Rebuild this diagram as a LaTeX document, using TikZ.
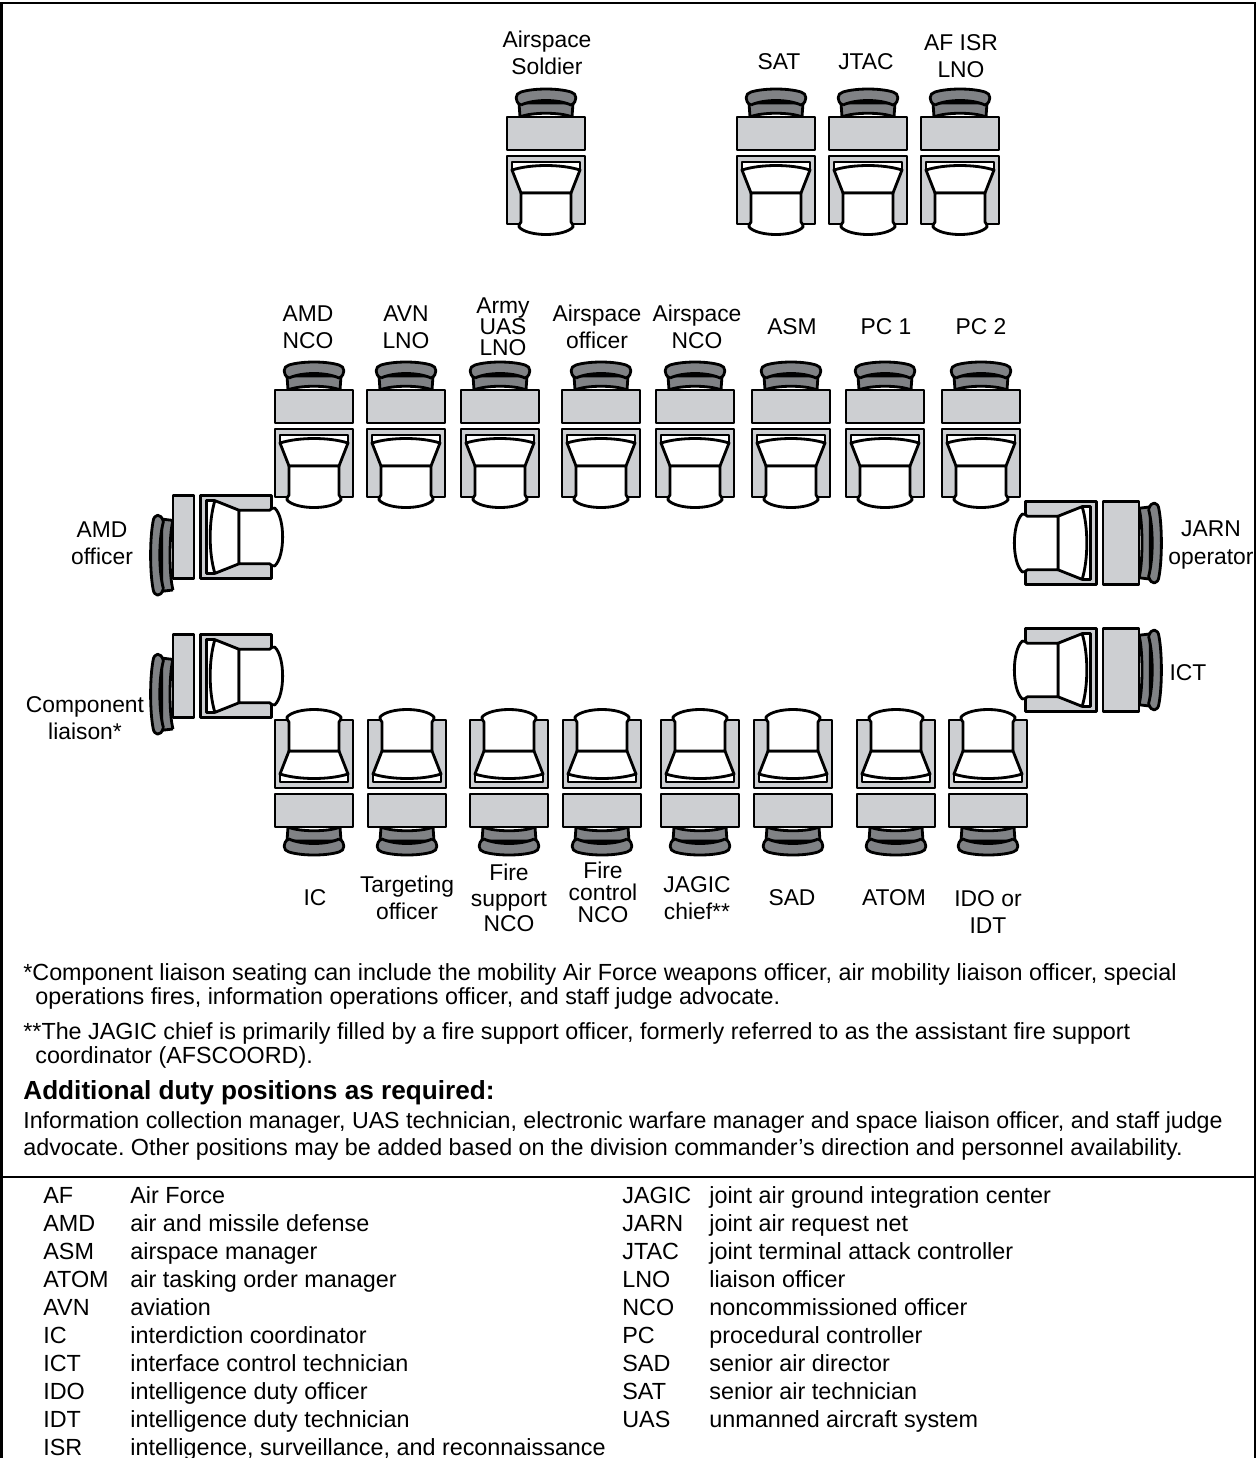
\documentclass[tikz,border=0pt]{standalone}
\usepackage{fontspec}
\setmainfont{Liberation Sans}
\usepackage{tikz}
\definecolor{deskgray}{HTML}{CDCFD2}
\definecolor{headgray}{HTML}{808285}
\frenchspacing
\tikzset{
  seatline/.style = {line width = 1.6pt, line join = round},
  place/.style = {align = center, inner sep = 0pt, font = \fontsize{13}{15.4}\selectfont},
  note/.style = {anchor = base west, inner sep = 0pt, font = \fontsize{13.28}{15}\selectfont},
  head/.style = {anchor = base west, inner sep = 0pt, font = \fontsize{14.9}{16}\selectfont\bfseries},
  abbr/.style = {anchor = base west, inner sep = 0pt, font = \fontsize{13.3}{15}\selectfont}
}
% chair seen from above, back towards the desk
\newcommand{\chair}{
\draw[seatline, fill = deskgray] (-25,72) -- (-39,72) -- (-39,4) -- (39,4) -- (39,72) -- (25,72);
\draw[seatline, fill = white] (-34,10) rectangle (34,18);
\draw[seatline, fill = white] (-34,18) .. controls (-15,12) and (15,12) .. (34,18) -- (25,41) -- (-25,41) -- cycle;
\draw[seatline, fill = white] (-25,41) -- (-25,70) .. controls (-26,72) and (-28,73) .. (-27,75) .. controls (-18,85) and (18,85) .. (27,75) .. controls (28,73) and (26,72) .. (25,70) -- (25,41) -- cycle;
}
% #1 is the depth of the desk
\newcommand{\desk}[1]{
\draw[seatline, fill = deskgray] (-39,-2) rectangle (39,-2-#1);
}
\newcommand{\headrest}{
\draw[seatline, fill = headgray] (-26,0) -- (-27,-14) -- (27,-14) -- (26,0) .. controls (15,-5) and (-15,-5) .. (-26,0);
\draw[seatline, fill = headgray] (-25,-12) .. controls (-32,-15) and (-31,-24) .. (-25,-25) .. controls (-12,-29) and (12,-29) .. (25,-25) .. controls (31,-24) and (32,-15) .. (25,-12) .. controls (12,-18) and (-12,-18) .. (-25,-12);
}
\newcommand{\seat}[3]{
\begin{scope}[shift = {(#1,#2)}, rotate = #3]
\begin{scope}[shift = {(0,-35)}]
\headrest
\end{scope}
\chair
\desk{33}
\end{scope}
}
% seats at the ends of the rows: #4 desk depth, #5 sideways shift of the headrest
\newcommand{\sideseat}[5]{
\begin{scope}[shift = {(#1,#2)}, rotate = #3, xscale = 1.07]
\begin{scope}[shift = {(#5,-2-#4)}, xscale = 1.25, yscale = 0.8]
\headrest
\end{scope}
\begin{scope}[yscale = 1.05]
\chair
\end{scope}
\desk{#4}
\end{scope}
}
\begin{document}
\begin{tikzpicture}[x = 0.02cm, y = -0.02cm]
\fill[white] (0,0) rectangle (1257,1458);
\useasboundingbox (0,0) rectangle (1257,1458);
\draw[line width = 1.3pt] (1.5,1458) coordinate (BL) -- (1.5,3) -- (1255,3) -- (1255,1458) coordinate (BR);
\draw[line width = 1.3pt] (1,1177) coordinate (RL) -- (1255,1177) coordinate (RR);
% upper seats
\seat{546}{152}{0}
\seat{776}{152}{0}
\seat{868}{152}{0}
\seat{960}{152}{0}
% middle row
\seat{314}{425}{0}
\seat{406}{425}{0}
\seat{500}{425}{0}
\seat{601}{425}{0}
\seat{695}{425}{0}
\seat{791}{425}{0}
\seat{885}{425}{0}
\seat{981}{425}{0}
% lower row
\seat{314}{792}{180}
\seat{407}{792}{180}
\seat{509}{792}{180}
\seat{602}{792}{180}
\seat{700}{792}{180}
\seat{793}{792}{180}
\seat{896}{792}{180}
\seat{988}{792}{180}
% ends of the rows
\sideseat{196}{537}{90}{21}{-17}
\sideseat{196}{676}{90}{21}{-17}
\sideseat{1101}{543}{-90}{36}{0}
\sideseat{1101}{670}{-90}{36}{0}
% seat names
\node[place] (soldier) at (547,53) {Airspace\\Soldier};
\node[place] (sat) at (779,62) {SAT};
\node[place] (jtac) at (866,62) {JTAC};
\node[place] (afisr) at (961,56) {AF ISR\\LNO};
\node[place] (amdnco) at (308,327) {AMD\\NCO};
\node[place] (avnlno) at (406,327) {AVN\\LNO};
\node[place, font = \fontsize{13}{12}\selectfont] (armyuas) at (503,327) {Army\\UAS\\LNO};
\node[place] (asoff) at (597,327) {Airspace\\officer};
\node[place] (asnco) at (697,327) {Airspace\\NCO};
\node[place] (asm) at (792,327) {ASM};
\node[place] (pcone) at (886,327) {PC 1};
\node[place] (pctwo) at (981,327) {PC 2};
\node[place] (amdoff) at (102,543) {AMD\\officer};
\node[place] (compl) at (85,718) {Component\\liaison*};
\node[place] (jarn) at (1211,545) {JARN\\operator};
\node[place] (ict) at (1188,673) {ICT};
\node[place] (ic) at (315,898) {IC};
\node[place] (target) at (407,898) {Targeting\\officer};
\node[place, font = \fontsize{13}{14.5}\selectfont] (firesup) at (509,898) {Fire\\support\\NCO};
\node[place, font = \fontsize{13}{12.5}\selectfont] (firectl) at (603,892) {Fire\\control\\NCO};
\node[place] (jagic) at (697,898) {JAGIC\\chief**};
\node[place] (sad) at (792,898) {SAD};
\node[place] (atom) at (894,898) {ATOM};
\node[place] (idoidt) at (988,912) {IDO or\\IDT};
% notes
\node[note] (noteAa) at (23,980) {*Component liaison seating can include the mobility Air Force weapons officer, air mobility liaison officer, special};
\node[note] (noteAb) at (35,1004) {operations fires, information operations officer, and staff judge advocate.};
\node[note] (noteBa) at (23,1039) {**The JAGIC chief is primarily filled by a fire support officer, formerly referred to as the assistant fire support};
\node[note] (noteBb) at (35,1063) {coordinator (AFSCOORD).};
\node[head] (addhead) at (23,1099) {Additional duty positions as required:};
\node[note, font = \fontsize{13.2}{15}\selectfont] (addAa) at (23,1128) {Information collection manager, UAS technician, electronic warfare manager and space liaison officer, and staff judge};
\node[note] (addAb) at (23,1155) {advocate. Other positions may be added based on the division commander’s direction and personnel availability.};
% abbreviations
\node[abbr] (af) at (43,1203) {AF};
\node[abbr] (aft) at (130,1203) {Air Force};
\node[abbr] (amd) at (43,1231) {AMD};
\node[abbr] (amdt) at (130,1231) {air and missile defense};
\node[abbr] (asmk) at (43,1259) {ASM};
\node[abbr] (asmt) at (130,1259) {airspace manager};
\node[abbr] (atomk) at (43,1287) {ATOM};
\node[abbr] (atomt) at (130,1287) {air tasking order manager};
\node[abbr] (avn) at (43,1315) {AVN};
\node[abbr] (avnt) at (130,1315) {aviation};
\node[abbr] (ick) at (43,1343) {IC};
\node[abbr] (ict2) at (130,1343) {interdiction coordinator};
\node[abbr] (ictk) at (43,1371) {ICT};
\node[abbr] (ictt) at (130,1371) {interface control technician};
\node[abbr] (ido) at (43,1399) {IDO};
\node[abbr] (idot) at (130,1399) {intelligence duty officer};
\node[abbr] (idt) at (43,1427) {IDT};
\node[abbr] (idtt) at (130,1427) {intelligence duty technician};
\node[abbr] (isr) at (43,1455) {ISR};
\node[abbr] (isrt) at (130,1455) {intelligence, surveillance, and reconnaissance};
\node[abbr] (jagick) at (622,1203) {JAGIC};
\node[abbr] (jagict) at (709,1203) {joint air ground integration center};
\node[abbr] (jarnk) at (622,1231) {JARN};
\node[abbr] (jarnt) at (709,1231) {joint air request net};
\node[abbr] (jtack) at (622,1259) {JTAC};
\node[abbr] (jtact) at (709,1259) {joint terminal attack controller};
\node[abbr] (lno) at (622,1287) {LNO};
\node[abbr] (lnot) at (709,1287) {liaison officer};
\node[abbr] (nco) at (622,1315) {NCO};
\node[abbr] (ncot) at (709,1315) {noncommissioned officer};
\node[abbr] (pc) at (622,1343) {PC};
\node[abbr] (pct) at (709,1343) {procedural controller};
\node[abbr] (sadk) at (622,1371) {SAD};
\node[abbr] (sadt) at (709,1371) {senior air director};
\node[abbr] (satk) at (622,1399) {SAT};
\node[abbr] (satt) at (709,1399) {senior air technician};
\node[abbr] (uas) at (622,1427) {UAS};
\node[abbr] (uast) at (709,1427) {unmanned aircraft system};
\end{tikzpicture}
\end{document}
